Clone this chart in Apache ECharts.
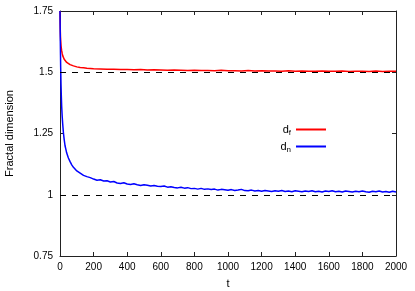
<!DOCTYPE html>
<html><head><meta charset="utf-8">
<script src="https://cdn.jsdelivr.net/npm/echarts@6/dist/echarts.min.js"></script>
<style>html,body{margin:0;padding:0;background:#fff}#c{width:415px;height:291px}</style>
</head><body><div id="c"></div>
<script>
// Tick values
var xTicks = [0,200,400,600,800,1000,1200,1400,1600,1800,2000];
var yTicks = [0.75,1,1.25,1.5,1.75];
var refLines = [1.5, 1.0];

// d_f (red)
var tF = [0,1,2,3,4,6,8,10,13,16,20,25,30,40,50,60,70,80,100,120,140,160,180,
  200,240,280,320,360,400,440,480,520,560,600,640,680,720,760,800,840,880,920,960,1000,
  1040,1080,1120,1160,1200,1240,1280,1320,1360,1400,1440,1480,1520,1560,1600,1640,1680,
  1720,1760,1800,1840,1880,1920,1960,2000];
var dF = [1.75,1.70,1.665,1.645,1.63,1.61,1.597,1.588,1.577,1.568,1.560,1.553,1.547,1.540,1.535,1.531,1.528,1.526,1.522,1.519,1.518,1.516,1.515,
  1.514,1.513,1.512,1.512,1.511,1.511,1.510,1.511,1.509,1.510,1.509,1.508,1.509,1.508,1.507,1.508,1.507,1.507,1.506,1.508,1.506,
  1.506,1.505,1.507,1.505,1.506,1.505,1.505,1.504,1.506,1.504,1.505,1.504,1.504,1.505,1.504,1.504,1.505,
  1.503,1.504,1.504,1.503,1.505,1.503,1.504,1.504];

// d_n (blue)
var tN = [0,1,2,3,4,6,8,10,13,16,20,25,30,35,40,50,60,70,80,90,100,110,120,130,140,150,160,170,180,190,
  200,220,240,260,280,300,320,340,360,380,400,420,440,460,480,500,520,540,560,580,
  600,620,640,660,680,700,720,740,760,780,800,820,840,860,880,900,920,940,960,980,
  1000,1020,1040,1060,1080,1100,1120,1140,1160,1180,1200,1220,1240,1260,1280,1300,1320,1340,1360,1380,
  1400,1420,1440,1460,1480,1500,1520,1540,1560,1580,1600,1620,1640,1660,1680,1700,1720,1740,1760,1780,
  1800,1820,1840,1860,1880,1900,1920,1940,1960,1980,2000];
var dN = [1.75,1.68,1.62,1.57,1.52,1.45,1.40,1.36,1.32,1.29,1.255,1.225,1.20,1.185,1.17,1.15,1.135,1.122,1.112,1.104,1.097,1.092,1.088,1.084,1.079,1.077,1.074,1.071,1.070,1.066,
  1.064,1.059,1.061,1.056,1.057,1.052,1.054,1.048,1.046,1.049,1.044,1.042,1.045,1.041,1.038,1.041,1.039,1.036,1.038,1.035,
  1.034,1.036,1.031,1.033,1.030,1.028,1.031,1.027,1.029,1.025,1.026,1.023,1.026,1.022,1.024,1.021,1.023,1.019,1.022,1.020,
  1.018,1.021,1.017,1.019,1.022,1.017,1.016,1.019,1.015,1.017,1.014,1.017,1.015,1.013,1.016,1.014,1.017,1.013,1.015,1.012,
  1.016,1.014,1.012,1.015,1.013,1.016,1.012,1.014,1.011,1.015,1.013,1.016,1.012,1.014,1.011,1.015,1.013,1.011,1.014,1.012,
  1.015,1.012,1.010,1.014,1.012,1.015,1.011,1.013,1.010,1.014,1.011];

function pairs(t, v){ return t.map(function(x,i){ return [x, v[i]]; }); }

var FONT = 'Liberation Sans';
var AX = '#222';
var chart = echarts.init(document.getElementById('c'), null, {renderer:'canvas'});
var xBase = {type:'value', min:xTicks[0], max:xTicks[xTicks.length-1], interval:xTicks[1]-xTicks[0],
  splitLine:{show:false}, axisLine:{show:true, onZero:false, lineStyle:{color:AX, width:1}},
  axisTick:{show:true, inside:true, length:4, lineStyle:{color:AX}}};
var yBase = {type:'value', min:yTicks[0], max:yTicks[yTicks.length-1], interval:yTicks[1]-yTicks[0],
  splitLine:{show:false}, axisLine:{show:true, onZero:false, lineStyle:{color:AX, width:1}},
  axisTick:{show:true, inside:true, length:4, lineStyle:{color:AX}}};

chart.setOption({
  animation:false,
  backgroundColor:'#fff',
  textStyle:{fontFamily:FONT},
  grid:{left:60, right:19, top:11, bottom:35, containLabel:false, outerBoundsMode:'none'},
  legend:{
    orient:'vertical', right:84, top:119, itemGap:4, align:'right',
    itemWidth:30, itemHeight:2, icon:'rect',
    data:['d_f','d_n'],
    formatter:function(n){ var p=n.split('_'); return '{a|'+p[0]+'}{b|'+p[1]+'}'; },
    textStyle:{fontFamily:FONT, color:'#000', rich:{
      a:{fontSize:11, fontFamily:FONT, color:'#000'},
      b:{fontSize:8, fontFamily:FONT, color:'#000', padding:[7,0,0,0]}
    }}
  },
  xAxis:[
    Object.assign({}, xBase, {position:'bottom', name:'t', nameLocation:'middle', nameGap:22,
      nameTextStyle:{fontSize:11, color:'#000', fontFamily:FONT},
      axisLabel:{fontSize:10, color:'#000', fontFamily:FONT, margin:6,
        formatter:function(v){ return String(v); }}}),
    Object.assign({}, xBase, {position:'top', axisLabel:{show:false}})
  ],
  yAxis:[
    Object.assign({}, yBase, {position:'left', name:'Fractal dimension', nameLocation:'middle', nameGap:45,
      nameTextStyle:{fontSize:11, color:'#000', fontFamily:FONT},
      axisLabel:{fontSize:10, color:'#000', fontFamily:FONT, margin:7,
        formatter:function(v){ return String(v); }}}),
    Object.assign({}, yBase, {position:'right', axisLabel:{show:false}})
  ],
  series:[
    {name:'d_f', type:'line', data:pairs(tF,dF), showSymbol:false, clip:true,
      lineStyle:{color:'#ff0000', width:1.5}, itemStyle:{color:'#ff0000'}, z:3,
      markLine:{silent:true, symbol:['none','none'], label:{show:false},
        lineStyle:{color:'#000', type:[6,6], width:1},
        data:refLines.map(function(v){ return {yAxis:v}; })}},
    {name:'d_n', type:'line', data:pairs(tN,dN), showSymbol:false, clip:true,
      lineStyle:{color:'#0000ff', width:1.5}, itemStyle:{color:'#0000ff'}, z:3}
  ]
});
</script></body></html>
